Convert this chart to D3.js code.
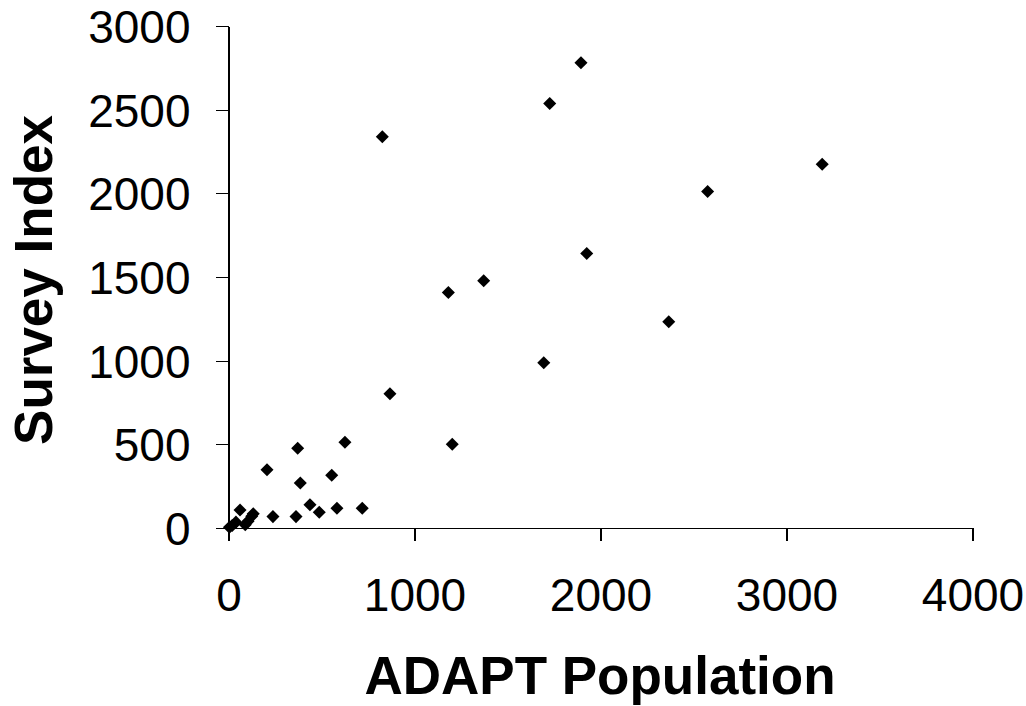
<!DOCTYPE html>
<html>
<head>
<meta charset="utf-8">
<script src="https://cdn.jsdelivr.net/npm/d3@7"></script>
<style>
  body { margin: 0; background: #fff; }
  .axis path, .axis line { stroke: #000; stroke-width: 1.2; shape-rendering: crispEdges; }
  .axis text { font-family: "Liberation Sans", Arial, sans-serif; font-size: 46px; fill: #000; }
  .title { font-family: "Liberation Sans", Arial, sans-serif; font-size: 53px; font-weight: bold; fill: #000; }
</style>
</head>
<body>
<div class="chart"></div>
<script>
// ADAPT population (x) vs survey index (y)
const adapt = [1895, 1727, 827, 3192, 2576, 1926, 1372, 1182, 2367, 1695, 868, 1203,
               372, 626, 207, 386, 555, 438, 488, 583, 719, 363, 239,
               133, 62, 105, 125, 90, 40, 20, 5];
const survey = [2780, 2537, 2338, 2174, 2011, 1641, 1477, 1408, 1232, 987, 802, 500,
                476, 512, 348, 269, 315, 139, 94, 118, 118, 68, 68,
                85, 107, 40, 70, 20, 35, 15, 5];
const xTicks = [0, 1000, 2000, 3000, 4000];
const yTicks = [0, 500, 1000, 1500, 2000, 2500, 3000];

const data = adapt.map((a, i) => ({x: a, y: survey[i]}));

const W = 1026, H = 706;
const svg = d3.select(".chart").append("svg")
    .attr("width", W)
    .attr("height", H);

// plot area
const x = d3.scaleLinear().domain([0, 4000]).range([228.5, 972.5]);
const y = d3.scaleLinear().domain([0, 3000]).range([528, 26]);

svg.append("g")
    .attr("class", "axis")
    .attr("transform", `translate(0,${y(0)})`)
    .call(d3.axisBottom(x).tickValues(xTicks).tickSize(13).tickSizeOuter(0).tickPadding(37).tickFormat(d3.format("d")));

const yAxis = svg.append("g")
    .attr("class", "axis")
    .attr("transform", `translate(${x(0)},0)`)
    .call(d3.axisLeft(y).tickValues(yTicks).tickSize(13).tickSizeOuter(0).tickPadding(25).tickFormat(d3.format("d")));
yAxis.selectAll("text").attr("dy", "0.36em");

// markers: black diamonds
svg.selectAll(".dot")
    .data(data)
    .enter()
    .append("path")
    .attr("class", "dot")
    .attr("d", d3.symbol(d3.symbolSquare, 85))
    .attr("transform", d => `translate(${x(d.x)},${y(d.y)}) rotate(45)`)
    .attr("fill", "#000");

// axis titles
svg.append("text")
    .attr("class", "title")
    .attr("text-anchor", "middle")
    .attr("x", 600)
    .attr("y", 694)
    .text("ADAPT Population");

svg.append("text")
    .attr("class", "title")
    .attr("text-anchor", "middle")
    .attr("transform", "translate(52,280) rotate(-90)")
    .text("Survey Index");
</script>
</body>
</html>
